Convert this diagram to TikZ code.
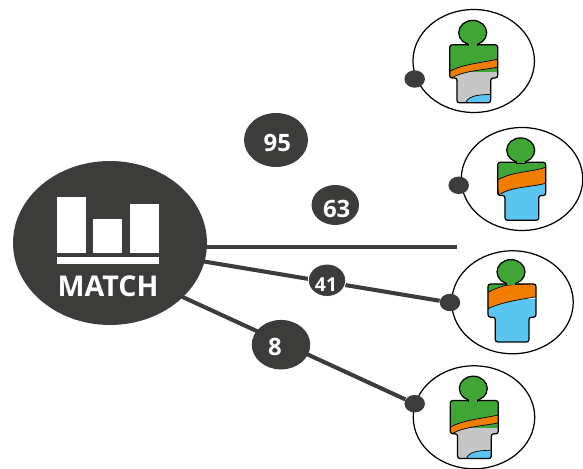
\documentclass[tikz,border=0pt]{standalone}
\usepackage{fontspec}
\setmainfont{Open Sans}
\usetikzlibrary{shapes.geometric}

\definecolor{darkgrey}{HTML}{3C3C3B}
\definecolor{pgreen}{HTML}{3FA535}
\definecolor{porange}{HTML}{F07D00}
\definecolor{pblue}{HTML}{5BC5F2}
\definecolor{pgrey}{HTML}{C6C6C6}

\tikzset{
  blob/.style={ellipse,fill=darkgrey,inner sep=0pt},
  ring/.style={ellipse,draw=black,line width=0.7pt,fill=none,inner sep=0pt,minimum width=2.43cm,minimum height=2.06cm},
  knob/.style={blob,minimum width=0.41cm,minimum height=0.35cm},
  link/.style={draw=darkgrey,line width=2.3pt},
  outline/.style={draw=black,line width=0.7pt},
  barpart/.style={fill=white},
  scoretext/.style={text=white,inner sep=0pt,font=\bfseries\fontsize{13.6}{15}\selectfont},
}

% torso and legs, origin near the centre of the head
\newcommand\bodypath{[rounded corners=1.4pt] (-23,10.3) -- (25,10.3) -- (25,43.5) -- (18,43.5) -- (18,68.3) -- (-15.7,68.3) -- (-15.7,43.5) -- (-23,43.5) -- cycle}

\newcommand\greykind{
  \fill[pgrey] (-30,30) rectangle (30,75);
  \fill[pgreen] (-30,5) rectangle (30,38);
  \draw[fill=porange,line width=0.4pt] (-24,37.5) .. controls (-12,30) and (5,29) .. (26,24.5) -- (26,32.5) .. controls (8,36) and (-10,36) .. (-24,45) -- cycle;
  \draw[fill=pblue,line width=0.4pt] (-8,70) .. controls (-5,62) and (2,60) .. (19,60) -- (19,70) -- cycle;
}
\newcommand\bluekind{
  \fill[pblue] (-30,25) rectangle (30,75);
  \fill[pgreen] (-30,5) rectangle (30,30);
  \draw[fill=porange,line width=0.4pt] (-24,28.5) .. controls (-8,19) and (8,21) .. (26,15) -- (26,31) .. controls (8,36) and (-8,34) .. (-22,43) -- cycle;
}
\newcommand\orangekind{
  \fill[pblue] (-30,25) rectangle (30,75);
  \fill[pgreen] (-30,5) rectangle (0,22);
  \draw[fill=porange,line width=0.4pt] (-24,19) .. controls (-12,13) and (-5,11) .. (3,11) -- (26,9) -- (26,23) .. controls (8,26) and (-8,28) .. (-23,35) -- cycle;
}

\newcommand\person[3]{
  \begin{scope}[shift={(#1,#2)}]
    \begin{scope}
      \clip \bodypath;
      #3
    \end{scope}
    \draw[outline] \bodypath;
    \draw[outline,fill=pgreen] (-4.5,6) rectangle (4.5,11);
    \draw[outline,fill=pgreen] (0,-1.8) ellipse (14 and 12.3);
    \fill[pgreen] (-4,6) rectangle (4,11.5);
  \end{scope}
}

\begin{document}
\begin{tikzpicture}[x=0.02cm,y=-0.02cm]
\useasboundingbox (0,0) rectangle (583,469);

% the people
\person{472.7}{34.5}{\greykind}
\person{520.7}{152}{\bluekind}
\person{511}{273.7}{\orangekind}
\person{473.3}{390.3}{\greykind}

\node[ring] (ringa) at (473.7,61) {};
\node[ring] (ringb) at (522,179) {};
\node[ring] (ringc) at (512.5,302.3) {};
\node[ring] (ringd) at (474,417.3) {};

\node[knob] (knoba) at (414.7,79) {};
\node[knob] (knobb) at (458.7,185.3) {};
\node[knob] (knobc) at (450,302.5) {};
\node[knob] (knobd) at (414.7,403.7) {};

% hub
\node[blob,minimum width=3.88cm,minimum height=3.28cm] (match) at (110,243) {};
\coordinate (lineend) at (457,247);
\coordinate (portb) at (195,247);
\coordinate (portc) at (195,260);
\coordinate (portd) at (175,293.5);
\draw[link] (portb) -- (lineend);
\draw[link] (portc) -- (knobc);
\draw[link] (portd) -- (knobd);

\fill[barpart] (57.3,197.3) rectangle (86,253.3);
\fill[barpart] (93.3,219) rectangle (122.3,253.3);
\fill[barpart] (130,204.3) rectangle (158.7,253.3);
\fill[barpart] (57.3,256.7) rectangle (159,264);
\node[text=white,font=\bfseries\fontsize{16.3}{18}\selectfont,inner sep=0pt] (matchtext) at (108,286) {MATCH};

% scores
\node[blob,minimum width=1.28cm,minimum height=1.08cm] (scorea) at (276,140) {};
\node[blob,minimum width=0.95cm,minimum height=0.80cm] (scoreb) at (335.3,205) {};
\node[blob,draw=white,line width=0.5pt,minimum width=0.75cm,minimum height=0.65cm] (scorec) at (327,280.3) {};
\node[blob,minimum width=1.17cm,minimum height=0.99cm] (scored) at (281,344.7) {};
\node[scoretext] (texta) at (277.3,143) {95};
\node[scoretext] (textb) at (336.7,209) {63};
\node[scoretext,font=\bfseries\fontsize{11}{13}\selectfont] (textc) at (326,285) {41};
\node[scoretext] (textd) at (275,347) {8};

\end{tikzpicture}
\end{document}
